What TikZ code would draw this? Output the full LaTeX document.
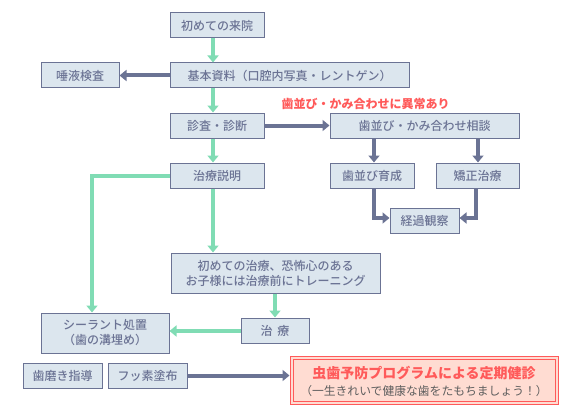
\documentclass[tikz,border=0pt]{standalone}
\usepackage{fontspec}
\setmainfont{Noto Sans CJK JP}
\newfontfamily\jpmed{Noto Sans CJK JP Medium}
\usetikzlibrary{arrows.meta}
\definecolor{slate}{HTML}{6B7394}
\definecolor{boxfill}{HTML}{DCE6EE}
\definecolor{mint}{HTML}{80DCB4}
\definecolor{alert}{HTML}{FF5A5A}
\definecolor{goalfill}{HTML}{FFDCD2}
\definecolor{subgray}{HTML}{5E5E5E}
\tikzset{
  box/.style={draw=slate, fill=boxfill, line width=1pt, text=slate, inner sep=0pt, align=center,
    font=\jpmed\fontsize{12}{15}\selectfont, minimum height=25pt},
  garrow/.style={draw=mint, line width=4pt, -{Triangle[width=11pt,length=7pt]}},
  darrow/.style={draw=slate, line width=4pt, -{Triangle[width=11pt,length=7pt]}},
}
\begin{document}
\begin{tikzpicture}[x=1pt,y=-1pt]
\useasboundingbox (0,0) rectangle (569,417);
\node[box, minimum width=94pt] (visit) at (217,25.5) {初めての来院};
\node[box, minimum width=239pt] (basic) at (289.5,75.5) {基本資料（口腔内写真・レントゲン）};
\node[box, minimum width=78pt] (saliva) at (80,75.5) {唾液検査};
\node[box, minimum width=94pt] (diag) at (217,125.5) {診査・診断};
\node[box, minimum width=189pt] (cons) at (424.5,125.5) {歯並び・かみ合わせ相談};
\node[box, minimum width=84pt] (grow) at (372,175.5) {歯並び育成};
\node[box, minimum width=83pt] (ortho) at (477.5,175.5) {矯正治療};
\node[box, minimum width=69pt] (obs) at (424.5,220.5) {経過観察};
\node[box, minimum width=94pt] (expl) at (217,175.5) {治療説明};
\node[box, minimum width=209pt, minimum height=40pt] (train) at (275.5,273) {初めての治療、恐怖心のある\\お子様には治療前にトレーニング};
\node[box, minimum width=68pt] (treat) at (275,330.5) {治\hspace{5pt}療};
\node[box, minimum width=128pt, minimum height=40pt] (seal) at (105,333) {シーラント処置\\（歯の溝埋め）};
\node[box, minimum width=79pt] (brush) at (62.5,375.5) {歯磨き指導};
\node[box, minimum width=79pt] (fluor) at (147.5,375.5) {フッ素塗布};
\node[draw=alert, line width=1pt, fill=goalfill, minimum width=268pt, minimum height=48pt, inner sep=0pt] (goal) at (424,380) {};
\node[draw=alert, line width=0.8pt, minimum width=262pt, minimum height=42pt, inner sep=0pt] (goalin) at (goal.center) {};
\node[text=alert, font=\bfseries\fontsize{14}{16}\selectfont, inner sep=0pt] (goalt) at (424,373) {虫歯予防プログラムによる定期健診};
\node[text=subgray, font=\fontsize{11.8}{14}\selectfont, inner sep=0pt] (goals) at (424,391.5) {（一生きれいで健康な歯をたもちましょう！）};
\node[text=alert, font=\bfseries\fontsize{12}{14}\selectfont, inner sep=0pt] (abn) at (365.5,104) {歯並び・かみ合わせに異常あり};
% green arrows
\draw[garrow] ([xshift=-4pt]visit.south) -- ([xshift=-4pt]visit.south |- basic.north);
\draw[garrow] ([xshift=-4pt]basic.south -| visit.south) -- ([xshift=-4pt]diag.north);
\draw[garrow] ([xshift=-4pt]diag.south) -- ([xshift=-4pt]expl.north);
\draw[garrow] ([xshift=-4pt]expl.south) -- ([xshift=-4pt]expl.south |- train.north);
\draw[garrow] (expl.west) -| ([xshift=-13pt]seal.north);
\draw[garrow] (train.south -| treat.north) -- (treat.north);
\draw[garrow] ([yshift=-0.5pt]treat.west) -- ([yshift=-0.5pt]treat.west -| seal.east);
% dark arrows
\draw[darrow] (basic.west) -- (saliva.east);
\draw[darrow] (diag.east) -- (cons.west);
\draw[darrow] ([xshift=2pt]cons.south -| grow.north) -- ([xshift=2pt]grow.north);
\draw[darrow] ([xshift=0.5pt]cons.south -| ortho.north) -- ([xshift=0.5pt]ortho.north);
\draw[darrow] ([xshift=2pt]grow.south) |- ([yshift=2.5pt]obs.west);
\draw[darrow] ([xshift=-1.5pt]ortho.south) |- ([yshift=2.5pt]obs.east);
\draw[darrow] (fluor.east) -- (fluor.east -| goal.west);
\end{tikzpicture}
\end{document}
